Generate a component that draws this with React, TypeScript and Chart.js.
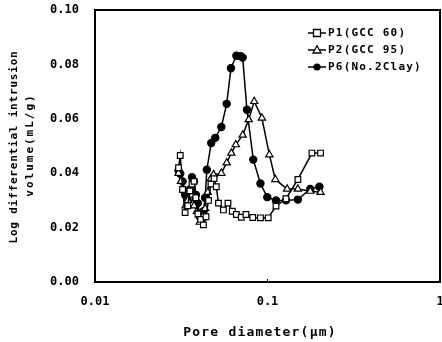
import React, { useEffect, useRef } from "react";
import { Chart, registerables } from "chart.js";
Chart.register(...registerables);

const P1_X = [0.0305, 0.0312, 0.0322, 0.0333, 0.0345, 0.0355, 0.0365, 0.0375, 0.0384, 0.0395, 0.041, 0.0425, 0.044, 0.0455, 0.047, 0.049, 0.0505, 0.052, 0.0555, 0.059, 0.0625, 0.066, 0.0705, 0.075, 0.0821, 0.091, 0.101, 0.112, 0.128, 0.15, 0.181, 0.203];
const P1_Y = [0.042, 0.0465, 0.034, 0.0255, 0.028, 0.0335, 0.036, 0.037, 0.031, 0.025, 0.023, 0.021, 0.024, 0.03, 0.036, 0.038, 0.035, 0.029, 0.0265, 0.029, 0.026, 0.0248, 0.0238, 0.0248, 0.0237, 0.0236, 0.0236, 0.0279, 0.0306, 0.0377, 0.0474, 0.0474];

const P2_X = [0.0305, 0.0315, 0.0325, 0.0335, 0.0345, 0.0355, 0.0365, 0.0375, 0.039, 0.0405, 0.042, 0.0435, 0.045, 0.047, 0.0487, 0.054, 0.058, 0.0617, 0.0655, 0.0718, 0.0778, 0.0838, 0.0928, 0.1025, 0.111, 0.13, 0.15, 0.177, 0.203];
const P2_Y = [0.04, 0.037, 0.034, 0.028, 0.03, 0.034, 0.032, 0.028, 0.026, 0.022, 0.024, 0.027, 0.033, 0.038, 0.0395, 0.04, 0.0438, 0.0474, 0.0505, 0.054, 0.0597, 0.0664, 0.0603, 0.0468, 0.0377, 0.0342, 0.0342, 0.0334, 0.033];

const P6_X = [0.0305, 0.0312, 0.0322, 0.0333, 0.0345, 0.0355, 0.0365, 0.0375, 0.0385, 0.0395, 0.0405, 0.0415, 0.0425, 0.0435, 0.0445, 0.0472, 0.0498, 0.054, 0.058, 0.0614, 0.066, 0.07, 0.0718, 0.076, 0.0827, 0.091, 0.0997, 0.112, 0.128, 0.15, 0.177, 0.2];
const P6_Y = [0.041, 0.0398, 0.037, 0.032, 0.03, 0.034, 0.0385, 0.037, 0.032, 0.029, 0.024, 0.023, 0.026, 0.031, 0.0413, 0.0511, 0.053, 0.057, 0.0655, 0.0786, 0.0832, 0.083, 0.0825, 0.0633, 0.045, 0.0362, 0.0312, 0.03, 0.03, 0.0303, 0.0342, 0.035];

const SERIES_NAMES = ["P1(GCC 60)", "P2(GCC 95)", "P6(No.2Clay)"];
const X_TICKS = [0.01, 0.1, 1];
const Y_TITLE = ["Log differential intrusion", "volume(mL/g)"];
const X_TITLE = "Pore diameter(\u03bcm)";

const MONO = "'DejaVu Sans Mono', monospace";

const zip = (xs: number[], ys: number[]) => xs.map((x, i) => ({ x, y: ys[i] }));

function drawMarker(ctx: CanvasRenderingContext2D, style: string, x: number, y: number) {
  ctx.save();
  ctx.lineWidth = 1.3;
  ctx.strokeStyle = "#000";
  ctx.beginPath();
  if (style === "rect") {
    ctx.fillStyle = "#fff";
    ctx.rect(x - 3.5, y - 3.5, 7, 7);
    ctx.fill();
    ctx.stroke();
  } else if (style === "triangle") {
    ctx.fillStyle = "#fff";
    ctx.moveTo(x, y - 4.2);
    ctx.lineTo(x + 4, y + 3);
    ctx.lineTo(x - 4, y + 3);
    ctx.closePath();
    ctx.fill();
    ctx.stroke();
  } else {
    ctx.fillStyle = "#000";
    ctx.arc(x, y, 3.6, 0, Math.PI * 2);
    ctx.fill();
  }
  ctx.restore();
}

const framePlugin = {
  id: "frameAndText",
  afterDraw(chart: any) {
    const { ctx, chartArea: a } = chart;
    ctx.save();
    ctx.strokeStyle = "#000";
    ctx.lineWidth = 2;
    ctx.strokeRect(a.left, a.top, a.right - a.left, a.bottom - a.top);
    const xs = chart.scales.x;
    ctx.lineWidth = 1;
    const px = xs.getPixelForValue(0.1);
    ctx.beginPath();
    ctx.moveTo(px, a.bottom);
    ctx.lineTo(px, a.bottom - 3);
    ctx.stroke();

    // legend
    const styles = ["rect", "triangle", "circle"];
    const rows = [33, 50, 67];
    ctx.font = `bold 11px ${MONO}`;
    (ctx as any).letterSpacing = "1.2px";
    ctx.textBaseline = "middle";
    ctx.fillStyle = "#000";
    SERIES_NAMES.forEach((name, i) => {
      const y = rows[i];
      ctx.lineWidth = 1.5;
      ctx.beginPath();
      ctx.moveTo(308, y);
      ctx.lineTo(326, y);
      ctx.stroke();
      drawMarker(ctx, styles[i], 317, y);
      ctx.fillText(name, 328, y);
    });

    // x title
    ctx.font = `bold 13px ${MONO}`;
    (ctx as any).letterSpacing = "1.2px";
    ctx.textAlign = "center";
    ctx.fillText(X_TITLE, 260, 333);

    // y title
    ctx.save();
    ctx.translate(14, 147);
    ctx.rotate(-Math.PI / 2);
    ctx.font = `bold 11px ${MONO}`;
    (ctx as any).letterSpacing = "0.8px";
    ctx.fillText(Y_TITLE[0], 0, 0);
    ctx.restore();
    ctx.save();
    ctx.translate(30, 145);
    ctx.rotate(-Math.PI / 2);
    ctx.font = `bold 11px ${MONO}`;
    (ctx as any).letterSpacing = "2px";
    ctx.fillText(Y_TITLE[1], 0, 0);
    ctx.restore();
    ctx.restore();
  },
};

export default function App() {
  const ref = useRef<HTMLCanvasElement>(null);
  useEffect(() => {
    const common = {
      borderColor: "#000",
      borderWidth: 1.5,
      pointBorderColor: "#000",
      pointBorderWidth: 1.2,
      pointRadius: 3.6,
      showLine: true,
      tension: 0,
    };
    const chart = new Chart(ref.current!, {
      type: "scatter",
      data: {
        datasets: [
          { ...common, label: SERIES_NAMES[0], data: zip(P1_X, P1_Y), pointStyle: "rect", pointBackgroundColor: "#fff", pointRadius: 4 },
          { ...common, label: SERIES_NAMES[1], data: zip(P2_X, P2_Y), pointStyle: "triangle", pointBackgroundColor: "#fff", pointRadius: 4.2 },
          { ...common, label: SERIES_NAMES[2], data: zip(P6_X, P6_Y), pointStyle: "circle", pointBackgroundColor: "#000" },
        ],
      },
      options: {
        animation: false,
        responsive: false,
        devicePixelRatio: 1,
        layout: { autoPadding: false, padding: { left: 0, right: 2, top: 10, bottom: 0 } },
        plugins: { legend: { display: false }, tooltip: { enabled: false } },
        scales: {
          x: {
            type: "logarithmic",
            min: 0.01,
            max: 1,
            afterBuildTicks: (s: any) => {
              s.ticks = X_TICKS.map((v) => ({ value: v }));
            },
            afterFit: (s: any) => {
              s.height = 60;
              s.paddingLeft = 0;
              s.paddingRight = 0;
            },
            grid: { display: false, drawTicks: false },
            border: { display: false },
            ticks: {
              padding: 13,
              color: "#000",
              font: { family: MONO, weight: "bold", size: 12 },
              callback: (v: any) => String(v),
              maxRotation: 0,
              autoSkip: false,
            },
          },
          y: {
            min: 0,
            max: 0.1,
            afterFit: (s: any) => {
              s.width = 95;
              s.paddingTop = 0;
              s.paddingBottom = 0;
            },
            grid: { display: false, drawTicks: false },
            border: { display: false },
            ticks: {
              stepSize: 0.02,
              padding: 16,
              color: "#000",
              font: { family: MONO, weight: "bold", size: 12 },
              callback: (v: any) => Number(v).toFixed(2),
            },
          },
        },
      },
      plugins: [framePlugin],
    } as any);
    return () => chart.destroy();
  }, []);
  return (
    <div style={{ position: "absolute", left: 0, top: 0, width: 442, height: 342, background: "#fff" }}>
      <canvas ref={ref} width={442} height={342} style={{ width: 442, height: 342, display: "block" }} />
    </div>
  );
}
